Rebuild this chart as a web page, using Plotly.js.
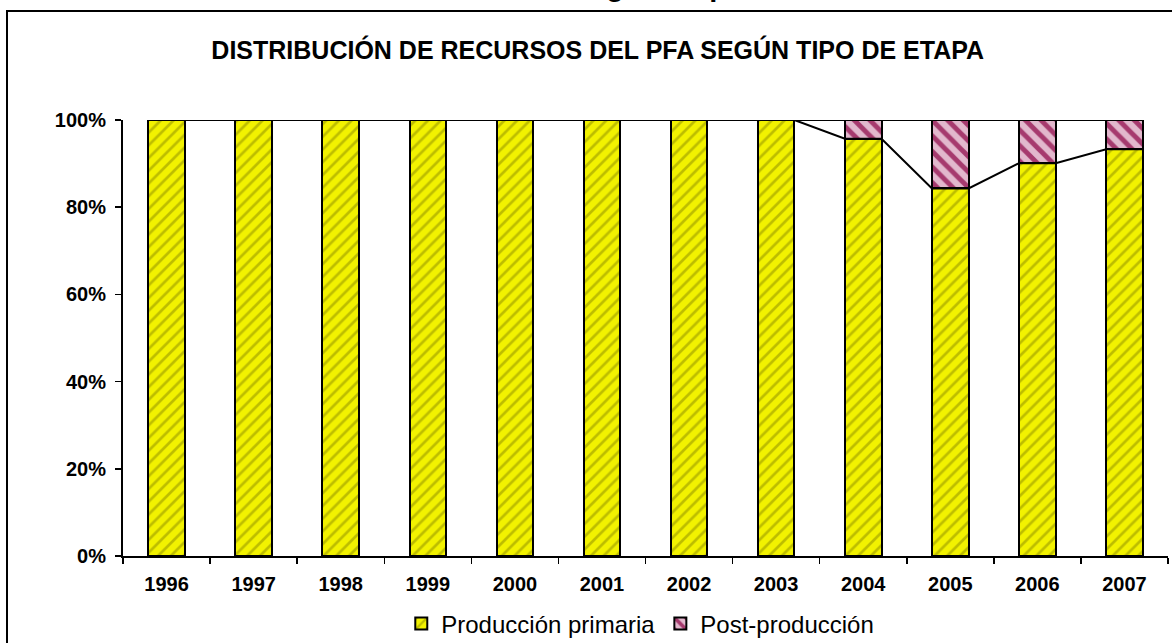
<!DOCTYPE html>
<html><head><meta charset="utf-8">
<script src="https://cdn.plot.ly/plotly-3.0.1.min.js"></script>
<style>
html,body{margin:0;padding:0;overflow:hidden;background:#fff}
#chart{position:absolute;left:0;top:0;width:1172px;height:643px}
#frame{position:absolute;left:6px;top:10px;width:1200px;height:700px;border:2px solid #000;pointer-events:none}
</style></head><body>
<div id="chart"></div><div id="frame"></div>
<script>
const years = ['1996','1997','1998','1999','2000','2001','2002','2003','2004','2005','2006','2007'];
const primaria = [1,1,1,1,1,1,1,1,0.957,0.843,0.901,0.933];
const postProduccion = [0,0,0,0,0,0,0,0,0.043,0.157,0.099,0.067];
const yTickVals = [0,0.2,0.4,0.6,0.8,1];
const yTickText = ['0%','20%','40%','60%','80%','100%'];

const barWidth = 0.42;
const FONT = 'Arial, "Liberation Sans", sans-serif';

const totals = primaria.map((v,i)=>v+postProduccion[i]);
function seriesLine(vals){
  const xs=[], ys=[];
  vals.forEach((v,i)=>{ xs.push(i-barWidth/2, i+barWidth/2); ys.push(v, v); });
  return {xs, ys};
}
const l1 = seriesLine(primaria);
const l2 = seriesLine(totals);

const traces = [
  {type:'bar', name:'Producción primaria', x:years, y:primaria, width:barWidth,
   marker:{color:'#f2f200', line:{color:'#000', width:2},
     pattern:{shape:'/', bgcolor:'#f2f200', fgcolor:'#bdbd00', size:9, solidity:0.3}}},
  {type:'bar', name:'Post-producción', x:years, y:postProduccion, width:barWidth,
   marker:{color:'#e2b8cd', line:{color:'#000', width:2},
     pattern:{shape:'\\', bgcolor:'#e2b8cd', fgcolor:'#a63a6e', size:11, solidity:0.45}}},
  {type:'scatter', mode:'lines', x:l1.xs, y:l1.ys, xaxis:'x2', showlegend:false,
   line:{color:'#000', width:2}, hoverinfo:'skip'},
  {type:'scatter', mode:'lines', x:l2.xs, y:l2.ys, xaxis:'x2', showlegend:false,
   line:{color:'#000', width:2}, hoverinfo:'skip'}
];

const layout = {
  width:1172, height:643,
  margin:{l:123, r:4, t:120, b:87, autoexpand:false},
  paper_bgcolor:'rgba(255,255,255,1)', plot_bgcolor:'rgba(0,0,0,0)',
  barmode:'stack',
  font:{family:FONT, color:'#000'},
  title:{text:'<b>DISTRIBUCIÓN DE RECURSOS DEL PFA SEGÚN TIPO DE ETAPA</b>',
    font:{family:FONT, size:25, color:'#000'},
    x:0.51, xanchor:'center', xref:'container', y:0.922, yanchor:'middle', yref:'container'},
  xaxis:{type:'category', range:[-0.5,11.5], showline:true, linecolor:'#000', linewidth:2,
    ticks:'outside', tickson:'boundaries', ticklen:6, tickcolor:'#000', tickwidth:1.5,
    tickfont:{family:FONT, size:20, color:'#000', weight:'bold'}, showgrid:false, zeroline:false,
    ticklabelstandoff:9},
  xaxis2:{overlaying:'x', range:[-0.5,11.5], visible:false, fixedrange:true},
  yaxis:{range:[0,1], tickvals:yTickVals, ticktext:yTickText, showline:true, linecolor:'#000', linewidth:2,
    ticks:'outside', ticklen:6, tickcolor:'#000', tickwidth:1.5, showgrid:false, zeroline:false,
    tickfont:{family:FONT, size:20, color:'#000', weight:'bold'}, ticklabelstandoff:5},
  legend:{orientation:'h', traceorder:'normal', x:0.495, xanchor:'center', y:-0.156, yanchor:'middle',
    font:{family:FONT, size:24, color:'#000'}, itemwidth:30, tracegroupgap:0, bgcolor:'rgba(0,0,0,0)'},
  annotations:[
    {text:'<b>según etapa.</b>', xref:'paper', yref:'paper', x:0.5167, y:1.2655, xanchor:'center', yanchor:'bottom',
     showarrow:false, font:{family:FONT, size:29, color:'#000'}}
  ],
  showlegend:true
};

Plotly.newPlot('chart', traces, layout, {displayModeBar:false, staticPlot:true});
</script>
</body></html>
